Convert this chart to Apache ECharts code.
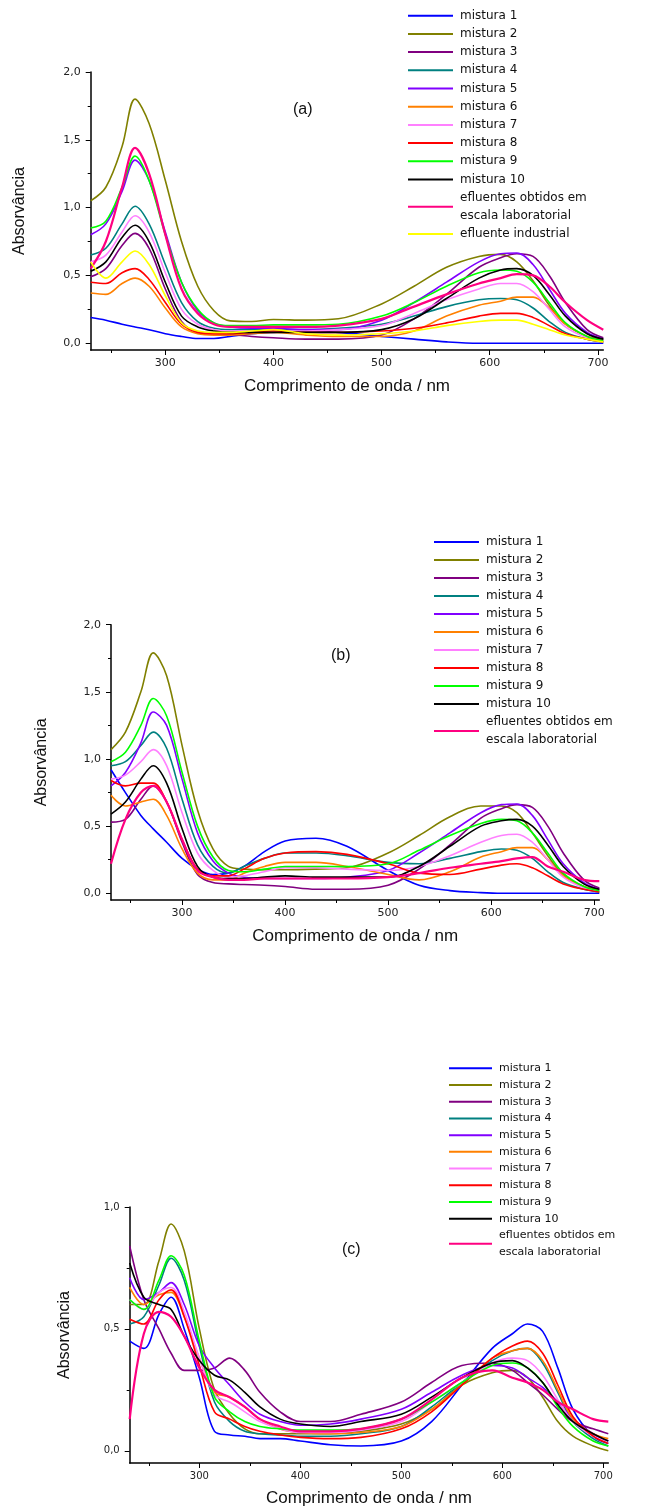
<!DOCTYPE html>
<html>
<head>
<meta charset="utf-8">
<script src="https://cdn.jsdelivr.net/npm/echarts@6/dist/echarts.min.js"></script>
<style>
  html, body { margin: 0; padding: 0; background: #fff; }
  #chart { width: 672px; height: 1508px; }
</style>
</head>
<body>
<div id="chart"></div>
<script>
// comprimentos de onda (nm) usados em todos os paineis
const wl = [231, 245, 260, 272, 285, 300, 315, 330, 345, 360, 380, 400, 430, 460, 500, 530, 560, 590, 610, 625, 640, 655, 670, 690, 705]

const nomes = ['mistura 1', 'mistura 2', 'mistura 3', 'mistura 4', 'mistura 5', 'mistura 6',
  'mistura 7', 'mistura 8', 'mistura 9', 'mistura 10', 'efluentes obtidos em escala laboratorial', 'efluente industrial']
const cores = ['#0000ff', '#808000', '#800080', '#008080', '#8000ff', '#ff8000',
  '#ff80ff', '#ff0000', '#00ff00', '#000000', '#ff0080', '#ffff00']

const yTicksAB = [0, 0.5, 1, 1.5, 2]
const yTicksC = [0, 0.5, 1]
const xTicks = [300, 400, 500, 600, 700]

// painel (a)
const a_m1 = [0.19, 0.17, 0.14, 0.12, 0.10, 0.07, 0.05, 0.035, 0.035, 0.05, 0.07, 0.08, 0.09, 0.08, 0.05, 0.03, 0.01, 0.0, 0.0, 0.0, 0.0, 0.0, 0.0, 0.0, 0.0]
const a_m2 = [1.05, 1.15, 1.45, 1.80, 1.62, 1.20, 0.75, 0.42, 0.24, 0.165, 0.16, 0.175, 0.17, 0.18, 0.29, 0.42, 0.56, 0.64, 0.655, 0.60, 0.46, 0.28, 0.14, 0.05, 0.03]
const a_m3 = [0.49, 0.55, 0.72, 0.81, 0.70, 0.40, 0.16, 0.08, 0.07, 0.065, 0.05, 0.04, 0.03, 0.03, 0.06, 0.18, 0.36, 0.56, 0.63, 0.66, 0.64, 0.50, 0.30, 0.10, 0.04]
const a_m4 = [0.65, 0.70, 0.88, 1.01, 0.88, 0.58, 0.30, 0.16, 0.11, 0.10, 0.10, 0.10, 0.10, 0.11, 0.14, 0.20, 0.27, 0.32, 0.33, 0.32, 0.26, 0.16, 0.08, 0.03, 0.01]
const a_m5 = [0.80, 0.88, 1.12, 1.35, 1.20, 0.82, 0.45, 0.24, 0.15, 0.12, 0.11, 0.11, 0.10, 0.10, 0.17, 0.30, 0.45, 0.60, 0.66, 0.665, 0.58, 0.40, 0.22, 0.08, 0.03]
const a_m6 = [0.37, 0.36, 0.44, 0.48, 0.42, 0.26, 0.12, 0.07, 0.06, 0.06, 0.07, 0.08, 0.06, 0.05, 0.05, 0.09, 0.20, 0.28, 0.31, 0.34, 0.34, 0.26, 0.14, 0.05, 0.02]
const a_m7 = [0.60, 0.65, 0.82, 0.94, 0.82, 0.52, 0.25, 0.14, 0.10, 0.09, 0.09, 0.09, 0.09, 0.10, 0.13, 0.22, 0.32, 0.40, 0.44, 0.44, 0.38, 0.25, 0.12, 0.04, 0.02]
const a_m8 = [0.45, 0.44, 0.52, 0.55, 0.47, 0.30, 0.14, 0.08, 0.07, 0.07, 0.08, 0.09, 0.08, 0.08, 0.09, 0.11, 0.15, 0.20, 0.22, 0.22, 0.19, 0.13, 0.07, 0.03, 0.01]
const a_m9 = [0.85, 0.90, 1.15, 1.38, 1.20, 0.80, 0.45, 0.25, 0.15, 0.13, 0.13, 0.135, 0.135, 0.14, 0.20, 0.30, 0.42, 0.52, 0.54, 0.53, 0.45, 0.30, 0.15, 0.05, 0.02]
const a_m10 = [0.53, 0.60, 0.78, 0.87, 0.75, 0.45, 0.20, 0.12, 0.09, 0.08, 0.08, 0.08, 0.08, 0.08, 0.10, 0.18, 0.33, 0.48, 0.54, 0.55, 0.50, 0.36, 0.20, 0.07, 0.03]
const a_efl = [0.55, 0.75, 1.15, 1.44, 1.25, 0.80, 0.40, 0.22, 0.14, 0.12, 0.12, 0.12, 0.12, 0.13, 0.18, 0.27, 0.36, 0.44, 0.48, 0.51, 0.50, 0.42, 0.30, 0.17, 0.10]
const a_ind = [0.60, 0.48, 0.60, 0.68, 0.58, 0.35, 0.15, 0.09, 0.08, 0.08, 0.09, 0.10, 0.07, 0.06, 0.07, 0.09, 0.13, 0.16, 0.17, 0.17, 0.14, 0.10, 0.06, 0.03, 0.01]

// painel (b)
const b_m1 = [0.92, 0.75, 0.58, 0.48, 0.38, 0.26, 0.18, 0.14, 0.15, 0.20, 0.31, 0.39, 0.41, 0.35, 0.17, 0.06, 0.02, 0.005, 0.0, 0.0, 0.0, 0.0, 0.0, 0.0, 0.0]
const b_m2 = [1.07, 1.20, 1.50, 1.79, 1.62, 1.10, 0.62, 0.33, 0.20, 0.18, 0.175, 0.175, 0.18, 0.19, 0.30, 0.43, 0.57, 0.65, 0.65, 0.60, 0.45, 0.28, 0.14, 0.05, 0.03]
const b_m3 = [0.53, 0.55, 0.70, 0.80, 0.68, 0.38, 0.14, 0.08, 0.07, 0.065, 0.06, 0.05, 0.03, 0.03, 0.06, 0.18, 0.36, 0.56, 0.63, 0.66, 0.64, 0.50, 0.30, 0.10, 0.04]
const b_m4 = [0.95, 0.98, 1.10, 1.20, 1.08, 0.70, 0.36, 0.20, 0.15, 0.20, 0.26, 0.30, 0.30, 0.28, 0.23, 0.22, 0.26, 0.31, 0.33, 0.32, 0.26, 0.16, 0.08, 0.03, 0.01]
const b_m5 = [0.80, 0.90, 1.12, 1.35, 1.25, 0.85, 0.45, 0.24, 0.15, 0.12, 0.11, 0.11, 0.11, 0.12, 0.17, 0.30, 0.45, 0.60, 0.66, 0.665, 0.58, 0.40, 0.22, 0.08, 0.03]
const b_m6 = [0.73, 0.65, 0.68, 0.70, 0.58, 0.33, 0.15, 0.10, 0.10, 0.15, 0.20, 0.23, 0.23, 0.20, 0.14, 0.10, 0.16, 0.27, 0.31, 0.34, 0.34, 0.25, 0.13, 0.05, 0.02]
const b_m7 = [0.85, 0.88, 0.98, 1.07, 0.95, 0.60, 0.30, 0.17, 0.12, 0.13, 0.16, 0.19, 0.19, 0.18, 0.17, 0.20, 0.28, 0.38, 0.43, 0.44, 0.38, 0.25, 0.12, 0.04, 0.02]
const b_m8 = [0.84, 0.80, 0.82, 0.82, 0.68, 0.40, 0.18, 0.13, 0.13, 0.18, 0.26, 0.30, 0.31, 0.29, 0.22, 0.15, 0.14, 0.18, 0.21, 0.22, 0.19, 0.13, 0.07, 0.03, 0.01]
const b_m9 = [0.98, 1.05, 1.25, 1.45, 1.32, 0.90, 0.50, 0.27, 0.17, 0.16, 0.18, 0.20, 0.20, 0.20, 0.22, 0.32, 0.43, 0.52, 0.55, 0.54, 0.45, 0.30, 0.15, 0.05, 0.02]
const b_m10 = [0.59, 0.68, 0.85, 0.95, 0.82, 0.48, 0.20, 0.12, 0.11, 0.11, 0.12, 0.13, 0.12, 0.12, 0.12, 0.20, 0.35, 0.50, 0.54, 0.55, 0.50, 0.36, 0.20, 0.07, 0.03]
const b_efl = [0.22, 0.55, 0.75, 0.80, 0.68, 0.40, 0.17, 0.12, 0.10, 0.10, 0.11, 0.11, 0.11, 0.11, 0.12, 0.15, 0.19, 0.22, 0.24, 0.26, 0.27, 0.20, 0.16, 0.10, 0.09]

// painel (c)
const c_m1 = [0.45, 0.42, 0.56, 0.63, 0.50, 0.30, 0.08, 0.065, 0.06, 0.05, 0.05, 0.04, 0.025, 0.02, 0.04, 0.12, 0.27, 0.42, 0.48, 0.52, 0.49, 0.34, 0.17, 0.06, 0.03]
const c_m2 = [0.60, 0.60, 0.78, 0.93, 0.82, 0.50, 0.25, 0.15, 0.09, 0.07, 0.07, 0.07, 0.07, 0.08, 0.11, 0.17, 0.27, 0.32, 0.33, 0.30, 0.22, 0.12, 0.06, 0.02, 0.0]
const c_m3 = [0.84, 0.62, 0.50, 0.40, 0.33, 0.33, 0.34, 0.38, 0.33, 0.24, 0.16, 0.12, 0.12, 0.15, 0.20, 0.28, 0.35, 0.36, 0.33, 0.28, 0.23, 0.17, 0.12, 0.09, 0.07]
const c_m4 = [0.52, 0.55, 0.68, 0.79, 0.70, 0.43, 0.20, 0.12, 0.08, 0.07, 0.065, 0.06, 0.06, 0.07, 0.10, 0.18, 0.28, 0.37, 0.41, 0.42, 0.36, 0.24, 0.12, 0.05, 0.02]
const c_m5 = [0.71, 0.62, 0.65, 0.69, 0.60, 0.43, 0.34, 0.27, 0.20, 0.15, 0.12, 0.105, 0.11, 0.13, 0.17, 0.24, 0.31, 0.35, 0.34, 0.30, 0.26, 0.20, 0.13, 0.07, 0.04]
const c_m6 = [0.67, 0.60, 0.64, 0.65, 0.55, 0.38, 0.24, 0.22, 0.18, 0.13, 0.09, 0.075, 0.07, 0.075, 0.10, 0.17, 0.27, 0.38, 0.41, 0.42, 0.37, 0.25, 0.13, 0.07, 0.05]
const c_m7 = [0.62, 0.58, 0.65, 0.67, 0.57, 0.38, 0.23, 0.20, 0.16, 0.12, 0.09, 0.075, 0.075, 0.085, 0.12, 0.20, 0.28, 0.36, 0.38, 0.37, 0.31, 0.21, 0.12, 0.06, 0.04]
const c_m8 = [0.54, 0.52, 0.62, 0.66, 0.55, 0.35, 0.16, 0.13, 0.10, 0.08, 0.065, 0.055, 0.05, 0.055, 0.09, 0.16, 0.27, 0.38, 0.43, 0.45, 0.40, 0.27, 0.14, 0.06, 0.03]
const c_m9 = [0.62, 0.58, 0.70, 0.80, 0.72, 0.45, 0.22, 0.16, 0.12, 0.10, 0.09, 0.085, 0.085, 0.09, 0.13, 0.20, 0.28, 0.35, 0.36, 0.34, 0.28, 0.18, 0.10, 0.04, 0.02]
const c_m10 = [0.77, 0.63, 0.60, 0.58, 0.47, 0.37, 0.31, 0.29, 0.24, 0.18, 0.13, 0.11, 0.10, 0.12, 0.15, 0.22, 0.30, 0.36, 0.37, 0.34, 0.28, 0.19, 0.12, 0.07, 0.04]
const c_efl = [0.13, 0.48, 0.57, 0.55, 0.47, 0.34, 0.25, 0.22, 0.18, 0.13, 0.10, 0.08, 0.08, 0.09, 0.13, 0.21, 0.30, 0.33, 0.30, 0.28, 0.25, 0.20, 0.17, 0.13, 0.12]

const fonte = 'Liberation Sans, Arial, sans-serif'
const virgula = v => v.toFixed(1).replace('.', ',')

function eixoX(g, gap, tam) {
  return {
    type: 'value', gridIndex: g, min: 231, max: 705,
    minInterval: 100, maxInterval: 100,
    name: 'Comprimento de onda / nm', nameLocation: 'middle', nameGap: gap,
    nameTextStyle: { fontFamily: fonte, fontSize: 17, color: '#111' },
    axisLine: { onZero: false, lineStyle: { color: '#000', width: 1.5 } },
    axisTick: { customValues: xTicks, length: 5, lineStyle: { color: '#000' } },
    minorTick: { show: true, splitNumber: 2, length: 3, lineStyle: { color: '#000' } },
    axisLabel: { customValues: xTicks, margin: 8, fontFamily: 'DejaVu Sans, sans-serif', fontSize: tam, color: '#222' },
    splitLine: { show: false }
  }
}

function eixoY(g, max, ticks, gap, tam) {
  return {
    type: 'value', gridIndex: g, min: -0.05, max: max,
    minInterval: 0.5, maxInterval: 0.5,
    name: 'Absorvância', nameLocation: 'middle', nameGap: gap,
    nameTextStyle: { fontFamily: fonte, fontSize: 16, color: '#111' },
    axisLine: { onZero: false, lineStyle: { color: '#000', width: 1.5 } },
    axisTick: { customValues: ticks, length: 5, lineStyle: { color: '#000' } },
    minorTick: { show: true, splitNumber: 2, length: 3, lineStyle: { color: '#000' } },
    axisLabel: { customValues: ticks, margin: 10, fontFamily: 'DejaVu Sans, sans-serif', fontSize: tam, color: '#222', formatter: virgula },
    splitLine: { show: false }
  }
}

function linha(i, vals, painel, largura) {
  return {
    name: nomes[i], type: 'line', xAxisIndex: painel, yAxisIndex: painel,
    data: wl.map((w, k) => [w, vals[k]]),
    smooth: 0.35, symbol: 'none', silent: true,
    color: cores[i],
    lineStyle: { color: cores[i], width: largura || 1.6 }
  }
}

function legenda(painel, left, top, alt, tam, larg) {
  return {
    orient: 'vertical', left: left, top: top, padding: 0,
    itemGap: 0, itemWidth: larg, itemHeight: 2, icon: 'rect',
    selectedMode: false,
    data: painel === 0 ? nomes : nomes.slice(0, 11),
    formatter: n => n.replace(' escala', '\nescala'),
    textStyle: { fontFamily: 'DejaVu Sans, sans-serif', fontSize: tam, color: '#111', lineHeight: alt, padding: [0, 0, 0, 2] }
  }
}

const A = [a_m1, a_m2, a_m3, a_m4, a_m5, a_m6, a_m7, a_m8, a_m9, a_m10, a_efl, a_ind]
const B = [b_m1, b_m2, b_m3, b_m4, b_m5, b_m6, b_m7, b_m8, b_m9, b_m10, b_efl]
const C = [c_m1, c_m2, c_m3, c_m4, c_m5, c_m6, c_m7, c_m8, c_m9, c_m10, c_efl]

let series = []
A.forEach((v, i) => series.push(linha(i, v, 0, i === 10 ? 2.2 : 1.6)))
B.forEach((v, i) => series.push(linha(i, v, 1, i === 10 ? 2.2 : 1.6)))
C.forEach((v, i) => series.push(linha(i, v, 2, i === 10 ? 2.2 : 1.6)))

const myChart = echarts.init(document.getElementById('chart'))
myChart.setOption({
  animation: false,
  backgroundColor: '#fff',
  grid: [
    { left: 90.7, top: 72, width: 512.6, height: 278 },
    { left: 111, top: 624.7, width: 488.3, height: 275.3 },
    { left: 129.7, top: 1207, width: 478.6, height: 256 }
  ],
  xAxis: [eixoX(0, 28, 11), eixoX(1, 28, 11), eixoX(2, 27, 10)],
  yAxis: [eixoY(0, 2, yTicksAB, 63, 11), eixoY(1, 2, yTicksAB, 61, 11), eixoY(2, 1, yTicksC, 57, 10)],
  legend: [
    legenda(0, 408, 6.6, 18.2, 12, 45),
    legenda(1, 434, 533, 18, 12, 45),
    legenda(2, 449, 1060, 16.7, 11, 43)
  ],
  graphic: [
    { type: 'text', left: 293, top: 102, style: { text: '(a)', font: '16px Liberation Sans, Arial', fill: '#111' } },
    { type: 'text', left: 331, top: 648, style: { text: '(b)', font: '16px Liberation Sans, Arial', fill: '#111' } },
    { type: 'text', left: 342, top: 1242, style: { text: '(c)', font: '16px Liberation Sans, Arial', fill: '#111' } }
  ],
  series: series
})
</script>
</body>
</html>
